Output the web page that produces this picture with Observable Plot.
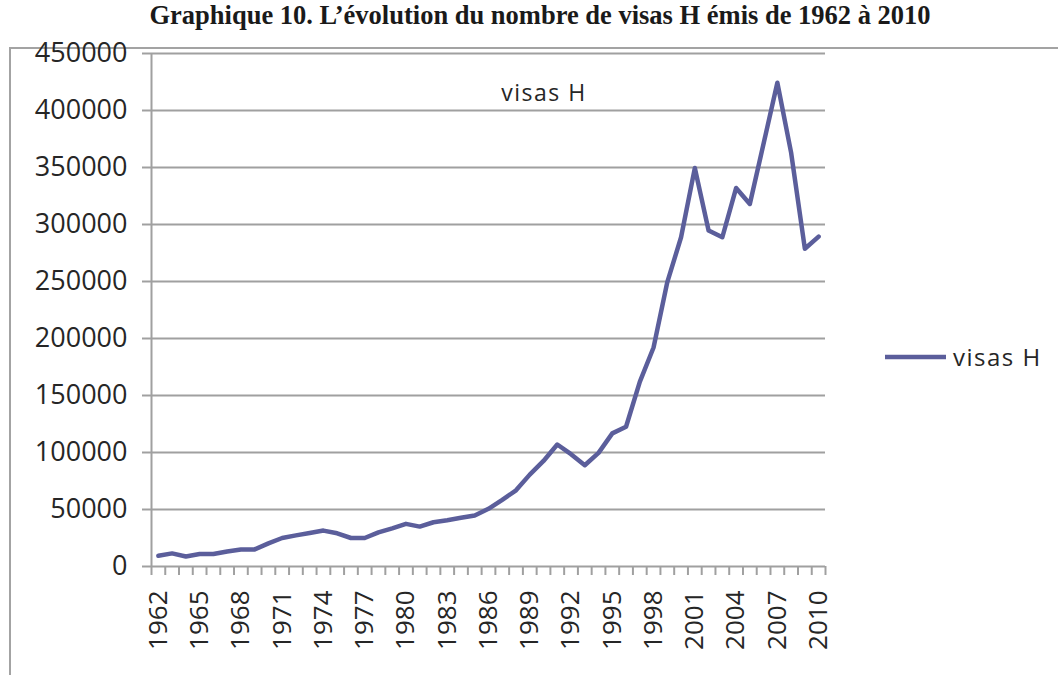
<!DOCTYPE html>
<html>
<head>
<meta charset="utf-8">
<script src="https://cdn.jsdelivr.net/npm/d3@7"></script>
<script src="https://cdn.jsdelivr.net/npm/@observablehq/plot@0.6"></script>
<style>
  html, body { margin: 0; padding: 0; background: #fff; }
  #wrap { position: relative; width: 1058px; height: 675px; overflow: hidden; }
  #title { position: absolute; left: 0; top: 0; width: 1080px; height: 47px; line-height: 47px;
           text-align: center; font: bold 26.5px "Liberation Serif", "Times New Roman", serif; color: #1a1a1a; white-space: nowrap; }
  #frame { position: absolute; left: 9px; top: 47px; width: 1060px; height: 640px;
           border-left: 2px solid #a3a3a3; border-top: 2px solid #a3a3a3; }
  #chart { position: absolute; left: 0; top: 47px; }
  #overlay { position: absolute; left: 0; top: 0; pointer-events: none; }
</style>
</head>
<body>
<div id="wrap">
  <div id="frame"></div>
  <div id="title">Graphique 10. L’évolution du nombre de visas H émis de 1962 à 2010</div>
  <div id="chart"></div>
  <svg id="overlay" width="1058" height="675"></svg>
</div>
<script>
// ---- data ----
const years = [1962,1963,1964,1965,1966,1967,1968,1969,1970,1971,1972,1973,1974,1975,1976,1977,1978,1979,1980,1981,1982,1983,1984,1985,1986,1987,1988,1989,1990,1991,1992,1993,1994,1995,1996,1997,1998,1999,2000,2001,2002,2003,2004,2005,2006,2007,2008,2009,2010];
const visasH = [9400,11500,8800,10900,10900,13200,15000,15000,20300,25000,27300,29400,31500,29100,25000,25000,30000,33500,37400,35000,38800,40600,42700,44700,50600,58500,66800,80600,92600,107000,98500,88800,99700,116800,122600,162000,192100,249500,288800,349500,294700,288800,332000,318000,371000,424300,363100,278700,289400];
const yTicks = [0,50000,100000,150000,200000,250000,300000,350000,400000,450000];
const xTickLabels = [1962,1965,1968,1971,1974,1977,1980,1983,1986,1989,1992,1995,1998,2001,2004,2007,2010];
const seriesName = "visas H";

const data = years.map((y, i) => ({year: y, value: visasH[i]}));
const boundaries = [years[0] - 0.5, ...years.map(y => y + 0.5)];

const lineColor = "#5b5e9b";
const gridColor = "#a0a0a0";
const textColor = "#262626";
const font = "'Open Sans', 'DejaVu Sans', sans-serif";

const chart = Plot.plot({
  width: 1058,
  height: 628,
  marginTop: 6,
  marginBottom: 109,
  marginLeft: 151,
  marginRight: 233,
  style: {fontFamily: font, background: "transparent", overflow: "visible"},
  x: {type: "linear", domain: [boundaries[0], boundaries[boundaries.length - 1]], axis: null},
  y: {domain: [0, 450000], axis: null},
  marks: [
    Plot.ruleY(yTicks, {stroke: gridColor, strokeWidth: 2}),
    Plot.ruleX([boundaries[0]], {y1: 0, y2: 450000, stroke: gridColor, strokeWidth: 2}),
    Plot.axisY({ticks: yTicks, tickSize: 9, tickPadding: 15, stroke: gridColor, strokeWidth: 2,
                fill: textColor, fontSize: 27, tickFormat: d => String(d), label: null}),
    Plot.axisX({ticks: boundaries, tickSize: 9, stroke: gridColor, strokeWidth: 2, fill: "none",
                tickFormat: () => "", label: null}),
    Plot.text(xTickLabels, {x: d => d, y: 0, text: d => String(d), rotate: -90, textAnchor: "end",
                lineAnchor: "middle", dy: 24, fontSize: 26, fill: textColor}),
    Plot.line(data, {x: "year", y: "value", stroke: lineColor, strokeWidth: 4.5, strokeLinejoin: "round"})
  ]
});
document.getElementById("chart").appendChild(chart);

// title inside plot and legend
const ov = d3.select("#overlay");
ov.append("text").attr("x", 544).attr("y", 101).attr("text-anchor", "middle")
  .attr("font-family", font).attr("font-size", 23).attr("letter-spacing", "1.5px")
  .attr("fill", textColor).text(seriesName);
ov.append("line").attr("x1", 885).attr("x2", 946).attr("y1", 357).attr("y2", 357)
  .attr("stroke", lineColor).attr("stroke-width", 4.5);
ov.append("text").attr("x", 953).attr("y", 366)
  .attr("font-family", font).attr("font-size", 24).attr("letter-spacing", "1.5px")
  .attr("fill", textColor).text(seriesName);
</script>
</body>
</html>
